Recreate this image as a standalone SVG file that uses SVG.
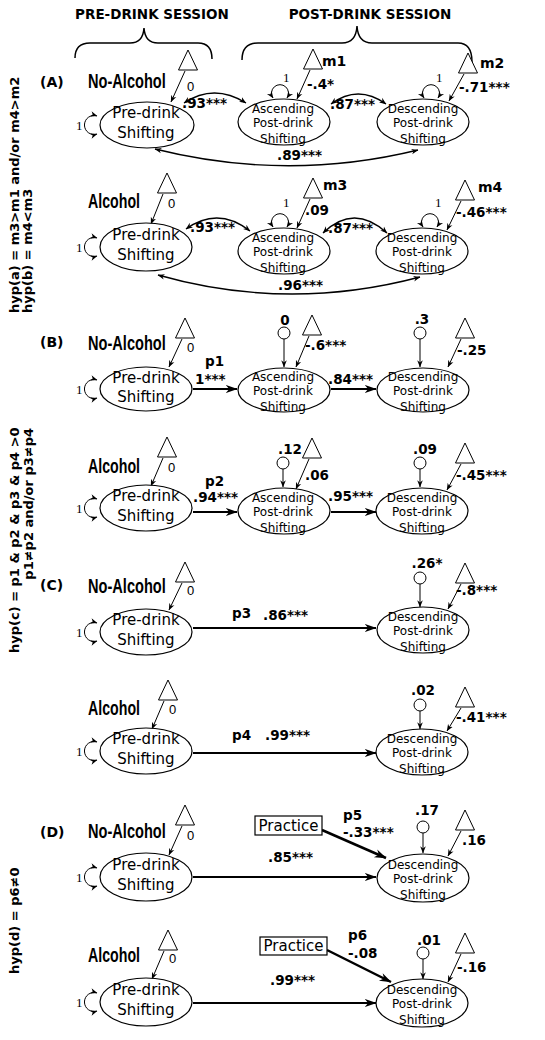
<svg xmlns="http://www.w3.org/2000/svg" width="545" height="1040" viewBox="0 0 545 1040">
<defs>
<style>
text { font-family: "DejaVu Sans", Verdana, sans-serif; fill: #000; }
.h { font-size: 13.5px; font-weight: bold; }
.hyp { font-size: 13px; font-weight: bold; }
.sec { font-size: 14px; font-weight: bold; }
.grp { font-family: "Liberation Sans", Arial, sans-serif; font-size: 20px; font-weight: bold; }
.lb { font-size: 13.5px; font-weight: bold; }
.m { font-size: 14px; font-weight: bold; }
.mid { text-anchor: middle; }
.nl { font-size: 15px; text-anchor: middle; }
.ns { font-size: 12px; text-anchor: middle; }
.one { font-family: "Liberation Serif", serif; font-size: 13px; }
.zero { font-family: "Liberation Sans", Arial, sans-serif; font-size: 13px; }
ellipse { fill: #fff; stroke: #000; stroke-width: 1.2; }
.tri { fill: #fff; stroke: #000; stroke-width: 1; }
.res { fill: #fff; stroke: #000; stroke-width: 1; }
.box { fill: #fff; stroke: #000; stroke-width: 1.2; }
.brace { fill: none; stroke: #000; stroke-width: 1.5; }
.thin { fill: none; stroke: #000; stroke-width: 1; marker-end: url(#s); }
.loop { fill: none; stroke: #000; stroke-width: 1; marker-start: url(#s); marker-end: url(#s); }
.dbl { fill: none; stroke: #000; stroke-width: 1.3; marker-start: url(#s); marker-end: url(#s); }
.thick { fill: none; stroke: #000; stroke-width: 2; marker-end: url(#b); }
.prac { fill: none; stroke: #000; stroke-width: 2.5; marker-end: url(#b); }
</style>
<marker id="s" viewBox="0 0 10 10" refX="9.5" refY="5" markerWidth="7" markerHeight="7" orient="auto-start-reverse" markerUnits="userSpaceOnUse"><path d="M0,1 L10,5 L0,9 L3,5 z" fill="#000"/></marker>
<marker id="b" viewBox="0 0 10 10" refX="9.5" refY="5" markerWidth="12" markerHeight="12" orient="auto-start-reverse" markerUnits="userSpaceOnUse"><path d="M0,1.5 L10,5 L0,8.5 L3,5 z" fill="#000"/></marker>
</defs>
<rect width="545" height="1040" fill="#fff"/>

<!-- headers -->
<g id="headers">
<text class="h" x="152" y="19" text-anchor="middle">PRE-DRINK SESSION</text>
<text class="h" x="370" y="19" text-anchor="middle">POST-DRINK SESSION</text>
<path class="brace" d="M75 58 Q75 43 90 43 L130 43 Q143 43 144 28 Q145 43 158 43 L198 43 Q212 43 212 59"/>
<path class="brace" d="M242 60 Q242 43 258 43 L342 43 Q356 43 357 26 Q358 43 372 43 L458 43 Q472 43 472 62"/>
</g>

<!-- hypotheses -->
<g id="hypotheses">
<text class="hyp" transform="translate(19,313) rotate(-90)">hyp(a) = m3&gt;m1 and/or m4&gt;m2</text>
<text class="hyp" transform="translate(32,313) rotate(-90)">hyp(b) = m4&lt;m3</text>
<text class="hyp" transform="translate(19,653) rotate(-90)">hyp(c) = p1 &amp; p2 &amp; p3 &amp; p4 &gt;0</text>
<text class="hyp" transform="translate(33,428) rotate(-90)" text-anchor="end">p1≠p2 and/or p3≠p4</text>
<text class="hyp" transform="translate(19,974) rotate(-90)">hyp(d) = p6≠0</text>
</g>

<!-- section labels -->
<g id="labels">
<text class="sec" x="40" y="87">(A)</text>
<text class="grp" transform="translate(88,88) scale(0.73,1)">No-Alcohol</text>
<text class="grp" transform="translate(88,208) scale(0.71,1)">Alcohol</text>
<text class="sec" x="40" y="347">(B)</text>
<text class="grp" transform="translate(88,350) scale(0.73,1)">No-Alcohol</text>
<text class="grp" transform="translate(88,473) scale(0.71,1)">Alcohol</text>
<text class="sec" x="40" y="590">(C)</text>
<text class="grp" transform="translate(88,593) scale(0.73,1)">No-Alcohol</text>
<text class="grp" transform="translate(88,715) scale(0.71,1)">Alcohol</text>
<text class="sec" x="40" y="837">(D)</text>
<text class="grp" transform="translate(88,838) scale(0.73,1)">No-Alcohol</text>
<text class="grp" transform="translate(88,962) scale(0.71,1)">Alcohol</text>
</g>

<!-- connectors -->
<g id="connectors">
<!-- A1 -->
<path class="thin" d="M185 71 L171 102"/>
<path class="loop" d="M97 116 A9.5 9.5 0 1 0 97 134"/>
<path class="thin" d="M310 70 L297 99"/>
<path class="thin" d="M464 74 L449 101"/>
<path class="loop" d="M273 98 A8.5 8.5 0 1 1 287 98"/>
<path class="loop" d="M424 98 A8.5 8.5 0 1 1 438 98"/>
<path class="dbl" d="M184 103 Q214 83 246 103"/>
<path class="dbl" d="M331 104 Q358 84 386 104"/>
<path class="dbl" d="M155 149 Q287 182 418 150"/>
<!-- A2 -->
<path class="thin" d="M163 194 L151 224"/>
<path class="loop" d="M97 238 A9.5 9.5 0 1 0 97 256"/>
<path class="thin" d="M310 199 L297 228"/>
<path class="thin" d="M461 201 L447 230"/>
<path class="loop" d="M273 227 A8.5 8.5 0 1 1 287 227"/>
<path class="loop" d="M423 227 A8.5 8.5 0 1 1 437 227"/>
<path class="dbl" d="M186 229 Q218 206 250 231"/>
<path class="dbl" d="M323 233 Q354 203 387 233"/>
<path class="dbl" d="M158 275 Q288 312 420 277"/>
<!-- B1 -->
<path class="thin" d="M182 339 L169 367"/>
<path class="loop" d="M97 380 A9.5 9.5 0 1 0 97 398"/>
<path class="thick" d="M193 389 L237 389"/>
<path class="thin" d="M284 339 L284 367"/>
<path class="thin" d="M309 336 L296 367"/>
<path class="thick" d="M331 389 L376 389"/>
<path class="thin" d="M420 339 L420 367"/>
<path class="thin" d="M461 339 L448 367"/>
<!-- B2 -->
<path class="thin" d="M163 458 L151 486"/>
<path class="loop" d="M97 499 A9.5 9.5 0 1 0 97 517"/>
<path class="thick" d="M193 512 L237 512"/>
<path class="thin" d="M283 469 L283 487"/>
<path class="thin" d="M309 459 L296 489"/>
<path class="thick" d="M331 512 L376 512"/>
<path class="thin" d="M420 469 L420 487"/>
<path class="thin" d="M461 464 L447 490"/>
<!-- C1 -->
<path class="thin" d="M182 583 L169 610"/>
<path class="loop" d="M97 623 A9.5 9.5 0 1 0 97 641"/>
<path class="thick" d="M193 628 L376 628"/>
<path class="thin" d="M420 584 L420 607"/>
<path class="thin" d="M461 584 L448 609"/>
<!-- C2 -->
<path class="thin" d="M164 701 L152 729"/>
<path class="loop" d="M97 742 A9.5 9.5 0 1 0 97 760"/>
<path class="thick" d="M193 753 L376 753"/>
<path class="thin" d="M420 711 L420 729"/>
<path class="thin" d="M461 708 L447 731"/>
<!-- D1 -->
<path class="thin" d="M182 826 L169 855"/>
<path class="loop" d="M97 868 A9.5 9.5 0 1 0 97 886"/>
<path class="prac" d="M322 830 L386 858"/>
<path class="thick" d="M193 877 L376 877"/>
<path class="thin" d="M423 833 L423 853"/>
<path class="thin" d="M461 831 L448 856"/>
<!-- D2 -->
<path class="thin" d="M164 951 L152 979"/>
<path class="loop" d="M97 993 A9.5 9.5 0 1 0 97 1011"/>
<path class="prac" d="M327 950 L391 982"/>
<path class="thick" d="M193 1003 L376 1003"/>
<path class="thin" d="M423 959 L423 979"/>
<path class="thin" d="M461 954 L448 982"/>
</g>

<!-- connector labels -->
<g id="edge-labels">
<text class="one" x="76" y="130">1</text>
<text class="zero" x="187" y="91">0</text>
<text class="one" x="283" y="82">1</text>
<text class="one" x="436" y="82">1</text>
<text class="m" x="322" y="66">m1</text>
<text class="lb" x="307" y="89">-.4*</text>
<text class="m" x="480" y="68">m2</text>
<text class="lb" x="459" y="92">-.71***</text>
<text class="lb" x="182" y="108">.93***</text>
<text class="lb" x="330" y="109">.87***</text>
<text class="lb" x="277" y="160">.89***</text>

<text class="one" x="76" y="252">1</text>
<text class="zero" x="168" y="208">0</text>
<text class="one" x="283" y="207">1</text>
<text class="one" x="435" y="207">1</text>
<text class="m" x="323" y="190">m3</text>
<text class="lb" x="305" y="215">.09</text>
<text class="m" x="478" y="192">m4</text>
<text class="lb" x="456" y="217">-.46***</text>
<text class="lb" x="190" y="232">.93***</text>
<text class="lb" x="328" y="233">.87***</text>
<text class="lb" x="278" y="290">.96***</text>

<text class="one" x="76" y="394">1</text>
<text class="zero" x="187" y="352">0</text>
<text class="lb" x="205" y="366">p1</text>
<text class="lb" x="195" y="384">1***</text>
<text class="lb mid" x="285" y="325">0</text>
<text class="lb" x="305" y="350">-.6***</text>
<text class="lb" x="328" y="384">.84***</text>
<text class="lb mid" x="422" y="324">.3</text>
<text class="lb" x="457" y="355">-.25</text>

<text class="one" x="76" y="513">1</text>
<text class="zero" x="168" y="472">0</text>
<text class="lb" x="205" y="486">p2</text>
<text class="lb" x="193" y="502">.94***</text>
<text class="lb mid" x="290" y="454">.12</text>
<text class="lb" x="305" y="480">.06</text>
<text class="lb" x="328" y="501">.95***</text>
<text class="lb mid" x="425" y="454">.09</text>
<text class="lb" x="456" y="480">-.45***</text>

<text class="one" x="76" y="637">1</text>
<text class="zero" x="187" y="595">0</text>
<text class="lb" x="232" y="618">p3</text>
<text class="lb" x="263" y="620">.86***</text>
<text class="lb mid" x="427" y="568">.26*</text>
<text class="lb" x="456" y="595">-.8***</text>

<text class="one" x="76" y="756">1</text>
<text class="zero" x="169" y="714">0</text>
<text class="lb" x="232" y="740">p4</text>
<text class="lb" x="265" y="740">.99***</text>
<text class="lb mid" x="423" y="695">.02</text>
<text class="lb" x="456" y="722">-.41***</text>

<text class="one" x="76" y="882">1</text>
<text class="zero" x="187" y="840">0</text>
<text class="lb" x="343" y="820">p5</text>
<text class="lb" x="343" y="837">-.33***</text>
<text class="lb" x="268" y="862">.85***</text>
<text class="lb mid" x="427" y="815">.17</text>
<text class="lb" x="462" y="845">.16</text>

<text class="one" x="76" y="1007">1</text>
<text class="zero" x="169" y="963">0</text>
<text class="lb" x="348" y="940">p6</text>
<text class="lb" x="348" y="958">-.08</text>
<text class="lb" x="270" y="985">.99***</text>
<text class="lb mid" x="429" y="945">.01</text>
<text class="lb" x="457" y="972">-.16</text>
</g>

<!-- A1 nodes -->
<g id="a1-pre"><ellipse cx="147" cy="125" rx="47" ry="23"/><text class="nl" x="146" y="118">Pre-drink</text><text class="nl" x="146" y="138">Shifting</text></g>
<g id="a1-asc"><ellipse cx="284" cy="122" rx="46" ry="23"/><text class="ns" x="283" y="113">Ascending</text><text class="ns" x="283" y="127">Post-drink</text><text class="ns" x="283" y="143">Shifting</text></g>
<g id="a1-desc"><ellipse cx="423" cy="122" rx="46" ry="23"/><text class="ns" x="423" y="113">Descending</text><text class="ns" x="423" y="127">Post-drink</text><text class="ns" x="423" y="143">Shifting</text></g>
<g id="a1-t0"><polygon class="tri" points="188,50 178.5,70 197.5,70"/></g>
<g id="a1-m1"><polygon class="tri" points="313,49 303.5,69 322.5,69"/></g>
<g id="a1-m2"><polygon class="tri" points="468,53 458.5,73 477.5,73"/></g>

<!-- A2 nodes -->
<g id="a2-pre"><ellipse cx="146" cy="247" rx="46" ry="24"/><text class="nl" x="146" y="240">Pre-drink</text><text class="nl" x="146" y="260">Shifting</text></g>
<g id="a2-asc"><ellipse cx="284" cy="251" rx="46" ry="23"/><text class="ns" x="283" y="242">Ascending</text><text class="ns" x="283" y="256">Post-drink</text><text class="ns" x="283" y="272">Shifting</text></g>
<g id="a2-desc"><ellipse cx="422" cy="251" rx="46" ry="23"/><text class="ns" x="422" y="242">Descending</text><text class="ns" x="422" y="256">Post-drink</text><text class="ns" x="422" y="272">Shifting</text></g>
<g id="a2-t0"><polygon class="tri" points="167,173 157.5,193 176.5,193"/></g>
<g id="a2-m3"><polygon class="tri" points="313,178 303.5,198 322.5,198"/></g>
<g id="a2-m4"><polygon class="tri" points="465,180 455.5,200 474.5,200"/></g>

<!-- B1 nodes -->
<g id="b1-pre"><ellipse cx="146" cy="389" rx="46" ry="22"/><text class="nl" x="146" y="383">Pre-drink</text><text class="nl" x="146" y="402">Shifting</text></g>
<g id="b1-asc"><ellipse cx="284" cy="390" rx="46" ry="22"/><text class="ns" x="283" y="381">Ascending</text><text class="ns" x="283" y="395">Post-drink</text><text class="ns" x="283" y="411">Shifting</text></g>
<g id="b1-desc"><ellipse cx="423" cy="390" rx="46" ry="22"/><text class="ns" x="423" y="381">Descending</text><text class="ns" x="423" y="395">Post-drink</text><text class="ns" x="423" y="411">Shifting</text></g>
<g id="b1-t0"><polygon class="tri" points="185,318 175.5,338 194.5,338"/></g>
<g id="b1-ta"><polygon class="tri" points="312,315 302.5,335 321.5,335"/></g>
<g id="b1-td"><polygon class="tri" points="465,318 455.5,338 474.5,338"/></g>
<g id="b1-ra"><circle class="res" cx="284" cy="333" r="6"/></g>
<g id="b1-rd"><circle class="res" cx="420" cy="333" r="6"/></g>

<!-- B2 nodes -->
<g id="b2-pre"><ellipse cx="146" cy="508" rx="46" ry="23"/><text class="nl" x="146" y="501">Pre-drink</text><text class="nl" x="146" y="521">Shifting</text></g>
<g id="b2-asc"><ellipse cx="284" cy="511" rx="46" ry="23"/><text class="ns" x="283" y="502">Ascending</text><text class="ns" x="283" y="516">Post-drink</text><text class="ns" x="283" y="532">Shifting</text></g>
<g id="b2-desc"><ellipse cx="422" cy="511" rx="46" ry="23"/><text class="ns" x="422" y="502">Descending</text><text class="ns" x="422" y="516">Post-drink</text><text class="ns" x="422" y="532">Shifting</text></g>
<g id="b2-t0"><polygon class="tri" points="167,437 157.5,457 176.5,457"/></g>
<g id="b2-ta"><polygon class="tri" points="312,438 302.5,458 321.5,458"/></g>
<g id="b2-td"><polygon class="tri" points="465,443 455.5,463 474.5,463"/></g>
<g id="b2-ra"><circle class="res" cx="283" cy="463" r="6"/></g>
<g id="b2-rd"><circle class="res" cx="420" cy="463" r="6"/></g>

<!-- C1 nodes -->
<g id="c1-pre"><ellipse cx="146" cy="632" rx="46" ry="23"/><text class="nl" x="146" y="625">Pre-drink</text><text class="nl" x="146" y="645">Shifting</text></g>
<g id="c1-desc"><ellipse cx="423" cy="630" rx="46" ry="23"/><text class="ns" x="423" y="621">Descending</text><text class="ns" x="423" y="635">Post-drink</text><text class="ns" x="423" y="651">Shifting</text></g>
<g id="c1-t0"><polygon class="tri" points="185,562 175.5,582 194.5,582"/></g>
<g id="c1-td"><polygon class="tri" points="465,563 455.5,583 474.5,583"/></g>
<g id="c1-rd"><circle class="res" cx="420" cy="578" r="6"/></g>

<!-- C2 nodes -->
<g id="c2-pre"><ellipse cx="146" cy="751" rx="46" ry="23"/><text class="nl" x="146" y="744">Pre-drink</text><text class="nl" x="146" y="764">Shifting</text></g>
<g id="c2-desc"><ellipse cx="422" cy="752" rx="46" ry="23"/><text class="ns" x="422" y="743">Descending</text><text class="ns" x="422" y="757">Post-drink</text><text class="ns" x="422" y="773">Shifting</text></g>
<g id="c2-t0"><polygon class="tri" points="168,680 158.5,700 177.5,700"/></g>
<g id="c2-td"><polygon class="tri" points="465,687 455.5,707 474.5,707"/></g>
<g id="c2-rd"><circle class="res" cx="420" cy="705" r="6"/></g>

<!-- D1 nodes -->
<g id="d1-pre"><ellipse cx="146" cy="877" rx="46" ry="24"/><text class="nl" x="146" y="870">Pre-drink</text><text class="nl" x="146" y="890">Shifting</text></g>
<g id="d1-desc"><ellipse cx="423" cy="878" rx="46" ry="24"/><text class="ns" x="423" y="869">Descending</text><text class="ns" x="423" y="883">Post-drink</text><text class="ns" x="423" y="899">Shifting</text></g>
<g id="d1-t0"><polygon class="tri" points="185,805 175.5,825 194.5,825"/></g>
<g id="d1-td"><polygon class="tri" points="465,810 455.5,830 474.5,830"/></g>
<g id="d1-rd"><circle class="res" cx="423" cy="827" r="6"/></g>
<g id="d1-practice"><rect class="box" x="255" y="816" width="67" height="19"/><text class="nl" x="288.5" y="831">Practice</text></g>

<!-- D2 nodes -->
<g id="d2-pre"><ellipse cx="146" cy="1002" rx="46" ry="24"/><text class="nl" x="146" y="995">Pre-drink</text><text class="nl" x="146" y="1015">Shifting</text></g>
<g id="d2-desc"><ellipse cx="422" cy="1003" rx="46" ry="24"/><text class="ns" x="422" y="994">Descending</text><text class="ns" x="422" y="1008">Post-drink</text><text class="ns" x="422" y="1024">Shifting</text></g>
<g id="d2-t0"><polygon class="tri" points="168,930 158.5,950 177.5,950"/></g>
<g id="d2-td"><polygon class="tri" points="465,933 455.5,953 474.5,953"/></g>
<g id="d2-rd"><circle class="res" cx="423" cy="953" r="6"/></g>
<g id="d2-practice"><rect class="box" x="260" y="937" width="67" height="18"/><text class="nl" x="293.5" y="951">Practice</text></g>
</svg>
